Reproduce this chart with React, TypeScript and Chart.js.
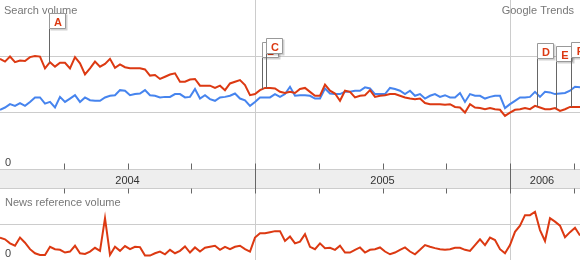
import React, { useEffect, useRef } from 'react';
import { Chart, registerables } from 'chart.js';

Chart.register(...registerables);

// ---- Data (weekly points, week 0 = first week of 2004) ----
const searchRed = [
  1.95, 1.90, 1.99, 1.89, 1.92, 1.91, 1.98, 2.00, 1.99, 1.78, 1.89, 1.81, 1.88, 1.88, 1.78, 1.98, 1.87, 1.67, 1.78, 1.90,
  1.81, 1.86, 1.95, 1.79, 1.85, 1.80, 1.78, 1.78, 1.78, 1.76,
  1.65, 1.66, 1.59, 1.63, 1.67, 1.69, 1.54, 1.54, 1.58, 1.59, 1.47, 1.47, 1.47, 1.43, 1.47, 1.39, 1.51, 1.54, 1.57, 1.48,
  1.30, 1.32, 1.39, 1.43, 1.43, 1.42, 1.36, 1.34, 1.36,
  1.34, 1.41, 1.43, 1.36, 1.29, 1.29, 1.49, 1.38, 1.33, 1.20, 1.38, 1.36, 1.26, 1.29, 1.30, 1.39, 1.27, 1.29, 1.30, 1.32,
  1.32, 1.29, 1.26, 1.24, 1.23, 1.24, 1.16, 1.14, 1.14,
  1.14, 1.13, 1.14, 1.09, 1.08, 0.99, 1.14, 1.08, 1.07, 1.05, 1.07, 1.05, 1.04, 0.93, 0.99, 1.04, 1.05, 1.07, 1.05, 1.11,
  1.08, 1.05, 1.05, 1.07, 1.02, 1.05, 1.09, 1.09, 1.09,
];

const searchBlue = [
  1.04, 1.08, 1.14, 1.11, 1.16, 1.11, 1.18, 1.26, 1.26, 1.15, 1.18, 1.08, 1.27, 1.18, 1.24, 1.30, 1.18, 1.26, 1.21, 1.20,
  1.20, 1.26, 1.29, 1.30, 1.39, 1.38, 1.30, 1.32, 1.33, 1.39,
  1.30, 1.29, 1.26, 1.27, 1.27, 1.32, 1.32, 1.26, 1.27, 1.41, 1.24, 1.30, 1.23, 1.20, 1.26, 1.27, 1.29, 1.33, 1.24, 1.21,
  1.11, 1.18, 1.26, 1.26, 1.26, 1.32, 1.27, 1.32, 1.45,
  1.29, 1.30, 1.30, 1.29, 1.24, 1.24, 1.42, 1.33, 1.32, 1.32, 1.36, 1.36, 1.38, 1.38, 1.44, 1.42, 1.32, 1.32, 1.32, 1.43,
  1.41, 1.38, 1.32, 1.38, 1.29, 1.32, 1.24, 1.29, 1.32,
  1.27, 1.30, 1.26, 1.26, 1.34, 1.18, 1.32, 1.29, 1.29, 1.24, 1.27, 1.29, 1.29, 1.07, 1.14, 1.20, 1.26, 1.26, 1.27, 1.36,
  1.27, 1.36, 1.35, 1.32, 1.33, 1.34, 1.38, 1.45, 1.44,
];

const newsRed = [
  0.60, 0.55, 0.43, 0.36, 0.60, 0.45, 0.26, 0.14, 0.09, 0.09, 0.33, 0.26, 0.24, 0.16, 0.19, 0.36, 0.14, 0.12, 0.19, 0.30,
  0.21, 1.17, 0.09, 0.33, 0.21, 0.35, 0.26, 0.33, 0.32, 0.07, 0.07, 0.14, 0.19, 0.11, 0.24, 0.14, 0.21, 0.34, 0.16, 0.31,
  0.19, 0.30, 0.33, 0.36, 0.24, 0.33, 0.26, 0.33, 0.36, 0.26, 0.19, 0.60, 0.73, 0.73, 0.76, 0.79, 0.79, 0.50, 0.63, 0.43,
  0.48, 0.70, 0.33, 0.26, 0.43, 0.29, 0.30, 0.24, 0.36, 0.16, 0.16, 0.24, 0.31, 0.16, 0.24, 0.26, 0.31, 0.19, 0.11,
  0.16, 0.24, 0.31, 0.19, 0.11, 0.24, 0.38, 0.33, 0.29, 0.26, 0.24, 0.26, 0.30, 0.30, 0.24, 0.21, 0.38, 0.55, 0.38, 0.60,
  0.53, 0.26, 0.14, 0.38, 0.77, 0.95, 1.26, 1.26, 1.36, 0.82, 0.50, 1.17, 1.07, 0.95, 0.61, 0.76, 0.89, 0.66,
];

const yearLabels = ['2004', '2005', '2006'];
const yearStartWeeks = [0, 51, 102];
const weeksPerQuarter = 12.75;

const flagLetters = ['A', 'B', 'C', 'D', 'E', 'F'];
const flagWeeks = [9.8, 52.4, 53.1, 107.3, 111.1, 114.1];

const searchGridValues = [1, 2];
const newsGridValues = [1];

// ---- Styling / layout constants ----
const RED = '#dc3912';
const BLUE = '#4684ee';
const FONT = '"Liberation Sans", Arial, sans-serif';
const FLAG_TOPS = [13, 42, 38, 43, 46, 42];
const FLAG_W = 16;
const FLAG_H = 15;

function valueAt(series: number[], week: number) {
  const i0 = Math.max(0, Math.min(series.length - 1, Math.floor(week)));
  const i1 = Math.min(series.length - 1, i0 + 1);
  const t = week - i0;
  return series[i0] * (1 - t) + series[i1] * t;
}

const decorPlugin = {
  id: 'trendsDecor',
  beforeDatasetsDraw(chart: any) {
    const { ctx, chartArea, scales } = chart;
    const xs = scales.x;
    const yS = scales.ySearch;
    const yN = scales.yNews;
    ctx.save();
    ctx.strokeStyle = '#cccccc';
    ctx.lineWidth = 1;
    ctx.beginPath();
    for (const v of searchGridValues) {
      const py = Math.round(yS.getPixelForValue(v)) + 0.5;
      ctx.moveTo(chartArea.left, py);
      ctx.lineTo(chartArea.right, py);
    }
    for (const v of newsGridValues) {
      const py = Math.round(yN.getPixelForValue(v)) + 0.5;
      ctx.moveTo(chartArea.left, py);
      ctx.lineTo(chartArea.right, py);
    }
    for (const w of yearStartWeeks) {
      if (w <= xs.min) continue;
      const px = Math.round(xs.getPixelForValue(w)) + 0.5;
      ctx.moveTo(px, chartArea.top);
      ctx.lineTo(px, chartArea.bottom);
    }
    ctx.stroke();
    ctx.restore();
  },
  afterDatasetsDraw(chart: any) {
    const { ctx, chartArea, scales } = chart;
    const xs = scales.x;
    const yS = scales.ySearch;
    ctx.save();

    // time band
    const zeroPx = Math.round(yS.getPixelForValue(0));
    const bandTop = zeroPx + 1.5;
    const bandBot = bandTop + 19;
    ctx.fillStyle = '#eeeeee';
    ctx.fillRect(chartArea.left, bandTop, chartArea.right - chartArea.left, bandBot - bandTop);
    ctx.strokeStyle = '#cccccc';
    ctx.lineWidth = 1;
    ctx.beginPath();
    ctx.moveTo(chartArea.left, bandTop);
    ctx.lineTo(chartArea.right, bandTop);
    ctx.moveTo(chartArea.left, bandBot);
    ctx.lineTo(chartArea.right, bandBot);
    ctx.stroke();

    // quarter ticks
    ctx.strokeStyle = '#666666';
    ctx.beginPath();
    for (let w = weeksPerQuarter; w <= xs.max + 0.01; w += weeksPerQuarter) {
      const px = Math.round(xs.getPixelForValue(w)) + 0.5;
      const isYear = yearStartWeeks.some((y) => Math.abs(y - w) < 0.5);
      ctx.moveTo(px, bandTop - 6);
      if (isYear) {
        ctx.lineTo(px, bandBot + 5);
      } else {
        ctx.lineTo(px, bandTop);
        ctx.moveTo(px, bandBot);
        ctx.lineTo(px, bandBot + 5);
      }
    }
    ctx.stroke();

    // year labels
    ctx.font = `11px ${FONT}`;
    ctx.fillStyle = '#333333';
    ctx.textAlign = 'center';
    ctx.textBaseline = 'alphabetic';
    yearLabels.forEach((label, i) => {
      const start = xs.getPixelForValue(yearStartWeeks[i]);
      const next = i + 1 < yearStartWeeks.length ? xs.getPixelForValue(yearStartWeeks[i + 1]) : chartArea.right - 6;
      const cx = (Math.max(start, chartArea.left) + Math.min(next, chartArea.right)) / 2;
      ctx.fillText(label, cx, bandTop + 14);
    });

    // titles and zero labels
    ctx.textAlign = 'left';
    ctx.fillStyle = '#777777';
    ctx.fillText('Search volume', 4, 14);
    ctx.fillText('News reference volume', 5, 206);
    ctx.textAlign = 'right';
    ctx.fillText('Google Trends', 574, 14);
    ctx.textAlign = 'left';
    ctx.fillStyle = '#444444';
    ctx.fillText('0', 5, 166);
    ctx.fillText('0', 5, 257);

    // flags
    flagLetters.forEach((letter, i) => {
      const px = Math.round(xs.getPixelForValue(flagWeeks[i])) + 0.5;
      const py = yS.getPixelForValue(valueAt(searchRed, flagWeeks[i]));
      const top = FLAG_TOPS[i] + 0.5;
      ctx.strokeStyle = '#666666';
      ctx.lineWidth = 1;
      ctx.beginPath();
      ctx.moveTo(px, top + FLAG_H);
      ctx.lineTo(px, py);
      ctx.stroke();
      // shadow
      ctx.fillStyle = 'rgba(0,0,0,0.18)';
      ctx.fillRect(px + 1, top + 1, FLAG_W + 1, FLAG_H + 1);
      // box
      ctx.fillStyle = '#ffffff';
      ctx.strokeStyle = '#999999';
      ctx.beginPath();
      ctx.rect(px, top, FLAG_W, FLAG_H);
      ctx.fill();
      ctx.stroke();
      ctx.fillStyle = RED;
      ctx.font = `bold 11px ${FONT}`;
      ctx.textAlign = 'center';
      ctx.fillText(letter, px + FLAG_W / 2 + 0.5, top + 12);
    });

    ctx.restore();
  },
};

export default function App() {
  const canvasRef = useRef<HTMLCanvasElement | null>(null);

  useEffect(() => {
    if (!canvasRef.current) return;
    const toPoints = (arr: number[]) => arr.map((v, i) => ({ x: i, y: v }));
    const chart = new Chart(canvasRef.current, {
      type: 'line',
      data: {
        datasets: [
          {
            label: 'Search volume (red)',
            data: toPoints(searchRed),
            borderColor: RED,
            borderWidth: 2,
            pointRadius: 0,
            tension: 0,
            yAxisID: 'ySearch',
            order: 0,
          },
          {
            label: 'Search volume (blue)',
            data: toPoints(searchBlue),
            borderColor: BLUE,
            borderWidth: 2,
            pointRadius: 0,
            tension: 0,
            yAxisID: 'ySearch',
            order: 1,
          },
          {
            label: 'News reference volume',
            data: toPoints(newsRed),
            borderColor: RED,
            borderWidth: 2,
            pointRadius: 0,
            tension: 0,
            yAxisID: 'yNews',
            order: 0,
          },
        ],
      },
      options: {
        responsive: false,
        animation: false,
        devicePixelRatio: 1,
        layout: { padding: 0 },
        plugins: { legend: { display: false }, tooltip: { enabled: false } },
        events: [],
        scales: {
          x: { type: 'linear', min: 0, max: searchRed.length - 1, display: false },
          ySearch: { type: 'linear', min: -1.642857, max: 3, display: false },
          yNews: { type: 'linear', min: -2 / 34, max: 258 / 34, display: false },
        },
      },
      plugins: [decorPlugin],
    });
    return () => chart.destroy();
  }, []);

  return (
    <div style={{ position: 'absolute', left: 0, top: 0, width: 580, height: 260, background: '#fff' }}>
      <canvas ref={canvasRef} width={580} height={260} style={{ display: 'block' }} />
    </div>
  );
}
